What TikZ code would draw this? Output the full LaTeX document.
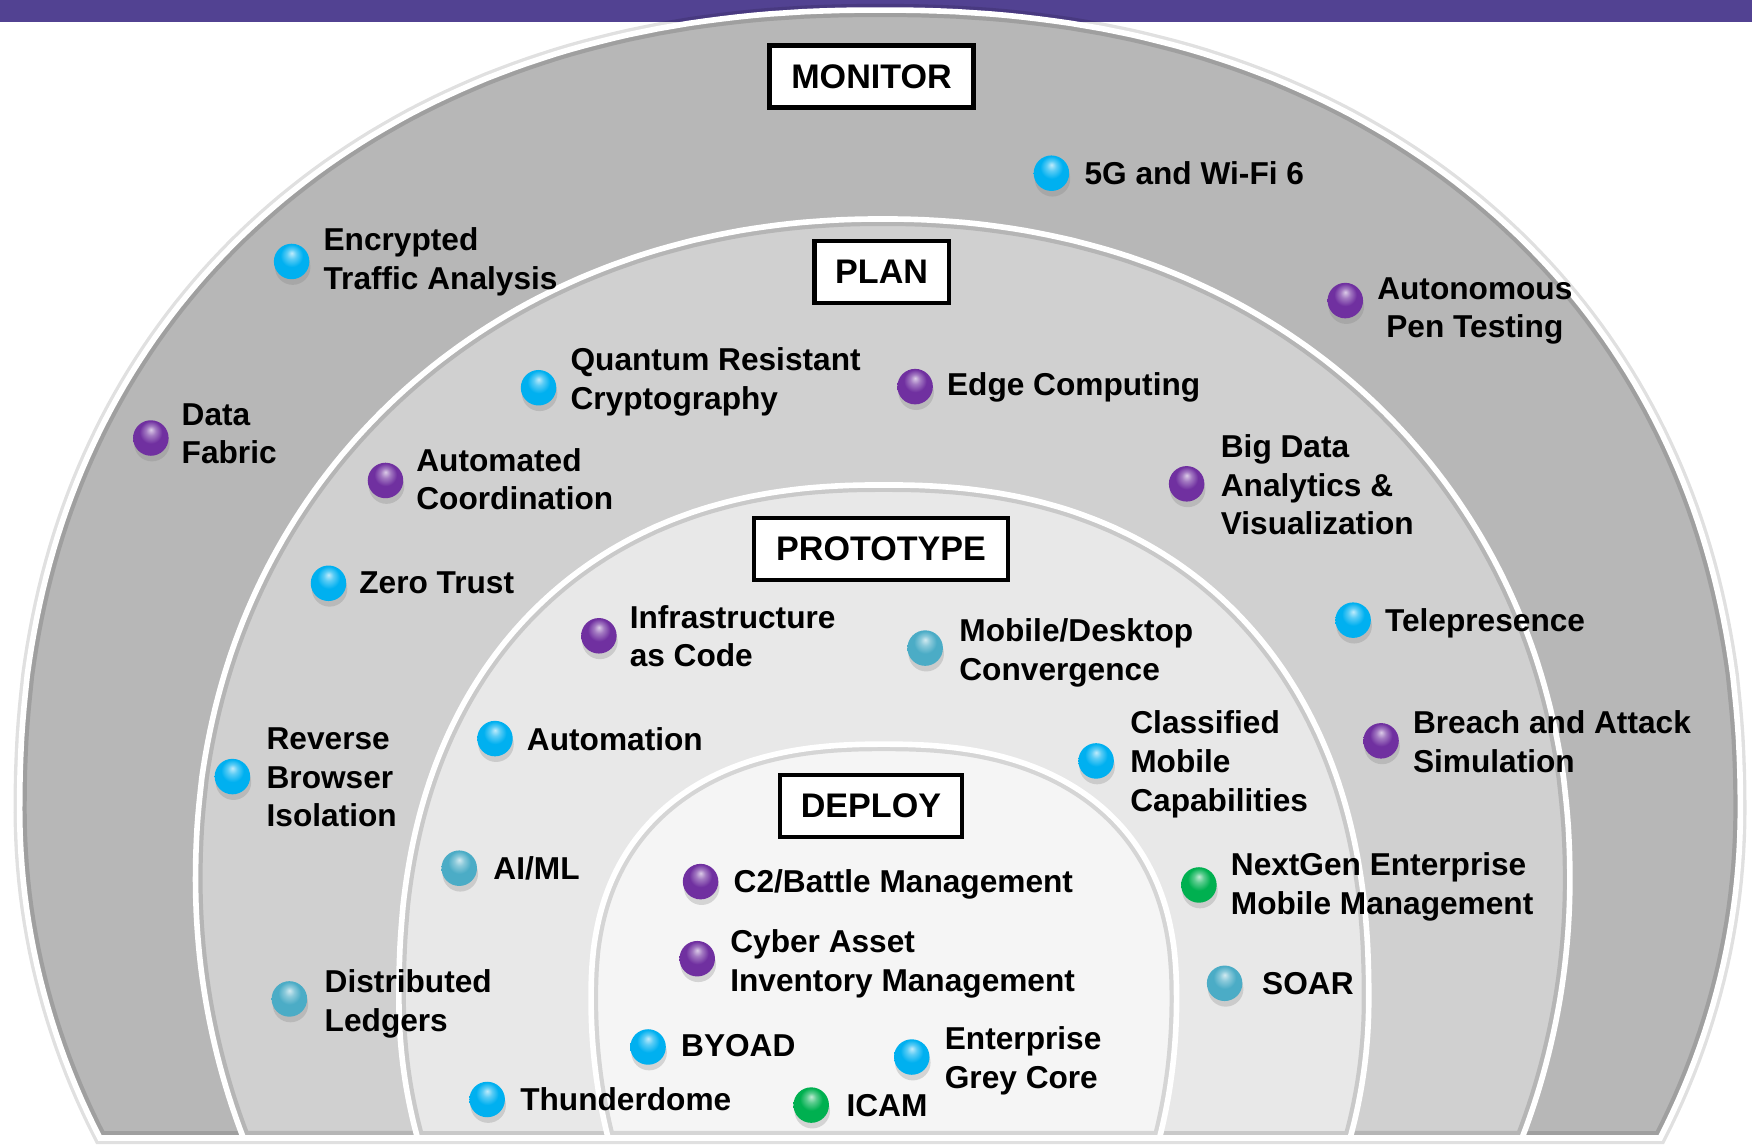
\documentclass[tikz,border=0pt]{standalone}
\usepackage{fontspec}
\setmainfont{Liberation Sans}
\usetikzlibrary{shadows}
\definecolor{barpurple}{RGB}{82,66,146}
\definecolor{ringA}{RGB}{183,183,183}
\definecolor{ringB}{RGB}{208,208,208}
\definecolor{ringC}{RGB}{232,232,232}
\definecolor{ringD}{RGB}{245,245,245}
\definecolor{bcyan}{RGB}{0,176,240}
\definecolor{bteal}{RGB}{75,172,198}
\definecolor{bpurple}{RGB}{112,48,160}
\definecolor{bgreen}{RGB}{0,176,80}
\colorlet{glosscol}{bcyan}
\pgfdeclareradialshading[glosscol]{gloss}{\pgfqpoint{0bp}{12bp}}{%
  color(0bp)=(glosscol!25!white); color(7bp)=(glosscol!65!white);
  color(16bp)=(glosscol); color(30bp)=(glosscol); color(37bp)=(glosscol!78!black);
  color(50bp)=(glosscol!65!black)}

\newcommand\archring[8]{%
  \pgfmathsetmacro\tone{asin((1018.5-#2)/#5)}%
  \def\rp{plot[domain=0:\tone,samples=25] ({#1-#3*cos(\tone-\x)},{#2+#5*sin(\tone-\x)}) -- plot[domain=0:180,samples=181] ({#1-#3*cos(\x)*pow(abs(cos(\x))+0.00001,#6-1)},{#2-#4*pow(abs(sin(\x))+0.00001,#6)}) -- plot[domain=0:\tone,samples=25] ({#1+#3*cos(\x)},{#2+#5*sin(\x)}) -- cycle}%
  \draw[#8] \rp;
  \fill[#7] \rp;
  \begin{scope}\clip \rp; \draw[black,opacity=.13,line width=4pt] \rp; \end{scope}
  \draw[white,line width=1.6pt] \rp;
}

\begin{document}
\begin{tikzpicture}[x=0.011173cm,y=-0.011173cm,
  ballnode/.style={circle,inner sep=0pt,minimum size=0.355cm,shading=gloss,
    drop shadow={shadow xshift=0.3pt,shadow yshift=-1.6pt,opacity=0.28}},
  cy/.style={/utils/exec={\colorlet{glosscol}{bcyan}},ballnode},
  tl/.style={/utils/exec={\colorlet{glosscol}{bteal}},ballnode},
  pu/.style={/utils/exec={\colorlet{glosscol}{bpurple}},ballnode},
  gr/.style={/utils/exec={\colorlet{glosscol}{bgreen}},ballnode},
  lab/.style={anchor=west,inner sep=0pt,align=left,font=\bfseries\fontsize{9}{11}\selectfont},
  stagebox/.style={draw=black,line width=1.2pt,fill=white,inner sep=0pt,minimum height=0.62cm,
    font=\bfseries\fontsize{9.7}{11}\selectfont}]
\useasboundingbox (0,0) rectangle (1568,1024);
\fill[white] (0,0) rectangle (1568,1024);
\fill[barpurple] (0,0) rectangle (1568,19.7);

% rings
\archring{787.6}{725}{770}{716}{696}{0.909}{ringA}{black,opacity=.12,line width=3.5pt}
\archring{790}{787.6}{615}{591.6}{630}{0.952}{ringB}{draw=none}
\archring{791}{895}{434}{461}{450}{0.87}{ringC}{draw=none}
\archring{791}{895}{262}{229}{367}{0.833}{ringD}{draw=none}

% stage boxes
\node[stagebox,minimum width=2.04cm] (monitor) at (780,68.5) {MONITOR};
\node[stagebox,minimum width=1.34cm] (plan) at (789,243.5) {PLAN};
\node[stagebox,minimum width=2.54cm] (prototype) at (788.5,491) {PROTOTYPE};
\node[stagebox,minimum width=1.82cm] (deploy) at (779.5,721.5) {DEPLOY};

% balls
\node[cy] (b1) at (941,155) {};
\node[cy] (b2) at (261,234) {};
\node[pu] (b3) at (1204,269) {};
\node[pu] (b4) at (135,392) {};
\node[cy] (b5) at (482,347) {};
\node[pu] (b6) at (819,346) {};
\node[pu] (b7) at (345,430) {};
\node[pu] (b8) at (1062,433) {};
\node[cy] (b9) at (294,522) {};
\node[pu] (b10) at (536,569) {};
\node[tl] (b11) at (828,580) {};
\node[cy] (b12) at (1211,555) {};
\node[cy] (b13) at (208,695) {};
\node[cy] (b14) at (443,661) {};
\node[cy] (b15) at (981,681) {};
\node[pu] (b16) at (1236,663) {};
\node[tl] (b17) at (411,777) {};
\node[pu] (b18) at (627,789) {};
\node[gr] (b19) at (1073,792) {};
\node[pu] (b20) at (624,858) {};
\node[tl] (b21) at (259,894) {};
\node[tl] (b22) at (1096,880) {};
\node[cy] (b23) at (580,937) {};
\node[cy] (b24) at (816,946) {};
\node[cy] (b25) at (436,984) {};
\node[gr] (b26) at (726,989) {};

% labels
\node[lab] (t1) at (970,158) {\strut 5G and Wi-Fi 6};
\node[lab] (t2) at (289,234.5) {\strut Encrypted\\\strut Traffic Analysis};
\node[lab,align=center] (t3) at (1232,278) {\strut Autonomous\\\strut Pen Testing};
\node[lab] (t4) at (162,391) {\strut Data\\\strut Fabric};
\node[lab] (t5) at (510,342) {\strut Quantum Resistant\\\strut Cryptography};
\node[lab] (t6) at (847,347) {\strut Edge Computing};
\node[lab] (t7) at (372,432) {\strut Automated\\\strut Coordination};
\node[lab] (t8) at (1092,437) {\strut Big Data\\\strut Analytics \&\\\strut Visualization};
\node[lab] (t9) at (321,524) {\strut Zero Trust};
\node[lab] (t10) at (563,572.5) {\strut Infrastructure\\\strut as Code};
\node[lab] (t11) at (858,584.5) {\strut Mobile/Desktop\\\strut Convergence};
\node[lab] (t12) at (1239,558) {\strut Telepresence};
\node[lab] (t13) at (238,698.5) {\strut Reverse\\\strut Browser\\\strut Isolation};
\node[lab] (t14) at (471,665) {\strut Automation};
\node[lab] (t15) at (1011,684.5) {\strut Classified\\\strut Mobile\\\strut Capabilities};
\node[lab] (t16) at (1264,667) {\strut Breach and Attack\\\strut Simulation};
\node[lab] (t17) at (441,780) {\strut AI/ML};
\node[lab] (t18) at (656,792) {\strut C2/Battle Management};
\node[lab] (t19) at (1101,794) {\strut NextGen Enterprise\\\strut Mobile Management};
\node[lab] (t20) at (653,863) {\strut Cyber Asset\\\strut Inventory Management};
\node[lab] (t21) at (290,898.5) {\strut Distributed\\\strut Ledgers};
\node[lab] (t22) at (1129,883) {\strut SOAR};
\node[lab] (t23) at (609,939) {\strut BYOAD};
\node[lab] (t24) at (845,950) {\strut Enterprise\\\strut Grey Core};
\node[lab] (t25) at (465,987) {\strut Thunderdome};
\node[lab] (t26) at (757,992) {\strut ICAM};
\end{tikzpicture}
\end{document}
